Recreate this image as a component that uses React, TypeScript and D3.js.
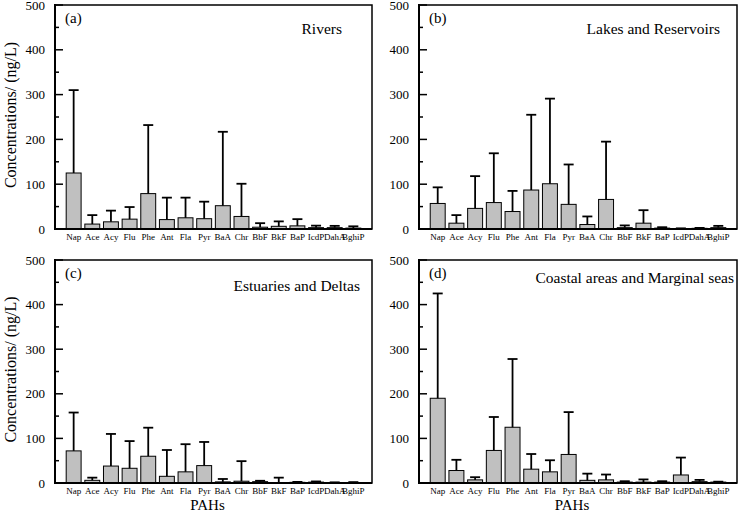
import React from "react";
import * as d3 from "d3";

// PAH compounds on the x axis
const pahs = ["Nap", "Ace", "Acy", "Flu", "Phe", "Ant", "Fla", "Pyr", "BaA", "Chr", "BbF", "BkF", "BaP", "IcdP", "DahA", "BghiP"];

// Mean concentrations (ng/L) and standard deviations per water body type
const riversMean = [125, 11, 16, 22, 79, 21, 25, 23, 52, 28, 4, 6, 7, 3, 3, 2];
const riversSD = [185, 20, 25, 27, 153, 49, 45, 38, 165, 73, 9, 11, 15, 4.5, 4, 4];

const lakesMean = [57, 13, 46, 59, 39, 87, 101, 55, 10, 66, 3, 13, 2, 1, 1.5, 3];
const lakesSD = [36, 18, 72, 110, 46, 168, 190, 89, 18, 129, 5, 29, 2, 0.5, 1, 4];

const estuariesMean = [72, 6, 38, 33, 60, 15, 25, 39, 2.5, 4, 3, 1, 1.5, 2, 1, 1];
const estuariesSD = [86, 6, 72, 61, 64, 59, 62, 53, 6.5, 45, 2, 11, 1, 1.5, 0.5, 1];

const coastalMean = [190, 28, 7, 73, 125, 31, 25, 64, 6, 7, 2, 2, 2, 18, 3, 2];
const coastalSD = [235, 24, 6, 75, 153, 34, 26, 95, 15, 12, 2, 6, 2, 39, 4, 1];

const panelLetters = ["(a)", "(b)", "(c)", "(d)"];
const panelTitles = ["Rivers", "Lakes and Reservoirs", "Estuaries and Deltas", "Coastal areas and Marginal seas"];
const yTicks = [0, 100, 200, 300, 400, 500];
const yMinorTicks = [50, 150, 250, 350, 450];

const FONT = "'Liberation Serif', 'Times New Roman', serif";

type PanelProps = {
  left: number;
  right: number;
  top: number;
  bottom: number;
  mean: number[];
  sd: number[];
  letter: string;
  title: string;
  titleEndPad: number;
  titleBaseline: number;
  showYLabel: boolean;
  showXLabel: boolean;
};

function Panel(p: PanelProps) {
  const x = d3.scaleLinear().domain([0, pahs.length + 1]).range([p.left, p.right]);
  const y = d3.scaleLinear().domain([0, 500]).range([p.bottom, p.top]);
  const step = x(1) - x(0);
  const barW = step * 0.8;
  const capW = 10;

  return (
    <g>
      {/* bars */}
      {p.mean.map((m, i) => (
        <rect
          key={"b" + i}
          x={x(i + 1) - barW / 2}
          y={y(m)}
          width={barW}
          height={y(0) - y(m)}
          fill="#c0c0c0"
          stroke="#000"
          strokeWidth={1}
        />
      ))}
      {/* upper error bars */}
      {p.mean.map((m, i) => {
        const cx = x(i + 1);
        const yt = y(m + p.sd[i]);
        return (
          <g key={"e" + i} stroke="#000" strokeWidth={1.8}>
            <line x1={cx} x2={cx} y1={y(m)} y2={yt} />
            <line x1={cx - capW / 2} x2={cx + capW / 2} y1={yt} y2={yt} />
          </g>
        );
      })}
      {/* frame */}
      <rect x={p.left} y={p.top} width={p.right - p.left} height={p.bottom - p.top} fill="none" stroke="#000" strokeWidth={1.5} />
      <line x1={p.left} x2={p.left} y1={p.top - 1} y2={p.bottom + 1} stroke="#000" strokeWidth={2} />
      <line x1={p.left - 1} x2={p.right} y1={p.bottom} y2={p.bottom} stroke="#000" strokeWidth={2} />
      {/* y ticks (inward) */}
      {yTicks.map((t) => (
        <g key={"t" + t}>
          <line x1={p.left} x2={p.left + 8} y1={y(t)} y2={y(t)} stroke="#000" strokeWidth={1.5} />
          <text x={p.left - 10} y={y(t)} dy="0.35em" textAnchor="end" fontSize={13} fontFamily={FONT}>
            {t}
          </text>
        </g>
      ))}
      {yMinorTicks.map((t) => (
        <line key={"m" + t} x1={p.left} x2={p.left + 4} y1={y(t)} y2={y(t)} stroke="#000" strokeWidth={1.5} />
      ))}
      {/* category labels */}
      {pahs.map((c, i) => (
        <text key={"c" + i} x={x(i + 1)} y={p.bottom + 11} textAnchor="middle" fontSize={9} fontFamily={FONT}>
          {c}
        </text>
      ))}
      <text x={p.left + 10} y={p.top + 18} fontSize={15} fontFamily={FONT}>
        {p.letter}
      </text>
      <text x={p.right - p.titleEndPad} y={p.top + p.titleBaseline} textAnchor="end" fontSize={15.5} fontFamily={FONT}>
        {p.title}
      </text>
      {p.showYLabel && (
        <text
          transform={`translate(16, ${(p.top + p.bottom) / 2 - 2}) rotate(-90)`}
          textAnchor="middle"
          fontSize={16}
          fontFamily={FONT}
        >
          Concentrations/ (ng/L)
        </text>
      )}
      {p.showXLabel && (
        <text x={(p.left + p.right) / 2 - 6} y={p.bottom + 27} textAnchor="middle" fontSize={15} fontFamily={FONT}>
          PAHs
        </text>
      )}
    </g>
  );
}

export default function App() {
  const cols = [
    { left: 55, right: 372 },
    { left: 419, right: 737 },
  ];
  const rows = [
    { top: 5, bottom: 229 },
    { top: 260, bottom: 483 },
  ];
  const means = [riversMean, lakesMean, estuariesMean, coastalMean];
  const sds = [riversSD, lakesSD, estuariesSD, coastalSD];
  const titleEndPads = [30, 17, 12, 3];
  const titleBaselines = [29, 29, 31, 23];

  return (
    <svg
      width={740}
      height={515}
      style={{ position: "absolute", left: 0, top: 0, background: "#fff" }}
    >
      {means.map((m, k) => {
        const c = cols[k % 2];
        const r = rows[Math.floor(k / 2)];
        return (
          <Panel
            key={k}
            left={c.left}
            right={c.right}
            top={r.top}
            bottom={r.bottom}
            mean={m}
            sd={sds[k]}
            letter={panelLetters[k]}
            title={panelTitles[k]}
            titleEndPad={titleEndPads[k]}
            titleBaseline={titleBaselines[k]}
            showYLabel={k % 2 === 0}
            showXLabel={k >= 2}
          />
        );
      })}
    </svg>
  );
}
